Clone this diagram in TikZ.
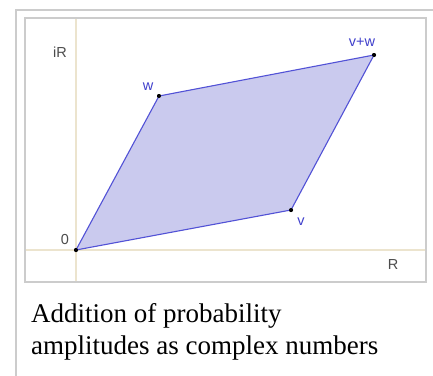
\documentclass[tikz,border=0pt]{standalone}
\usepackage{fontspec}
\setmainfont{Liberation Serif}
\setsansfont{Liberation Sans}
\usetikzlibrary{positioning}
\definecolor{areafill}{RGB}{202,202,238}
\definecolor{edgeblue}{RGB}{82,82,214}
\definecolor{lblblue}{RGB}{64,64,204}
\definecolor{axistan}{RGB}{236,228,206}
\definecolor{framegray}{RGB}{204,204,204}

\begin{document}
\begin{tikzpicture}[
  x=1pt, y=-1pt,
  corner/.style={circle, fill=black, inner sep=0pt, minimum size=4pt},
  vlabel/.style={font=\sffamily\fontsize{14.5}{14.5}\selectfont, text=lblblue, inner sep=1pt},
  alabel/.style={font=\sffamily\fontsize{14.5}{14.5}\selectfont, text=black!70, inner sep=1pt},
  axis/.style={draw=axistan, line width=1.6pt},
]
  \useasboundingbox (0,0) rectangle (433,375);
  % frames
  \draw[framegray, line width=1.2pt] (16,380) -- (16,10) -- (440,10);
  \draw[framegray, line width=1.2pt, fill=white] (25,18) rectangle (426,282);
  % axes
  \coordinate (xl) at (26,250);
  \coordinate (xr) at (425,250);
  \coordinate (yt) at (76,19);
  \coordinate (yb) at (76,281);
  \draw[axis] (xl) -- (xr);
  \draw[axis] (yt) -- (yb);
  % corners
  \node[corner] (o)  at (76,250)  {};
  \node[corner] (v)  at (291,210) {};
  \node[corner] (w)  at (159,96)  {};
  \node[corner] (vw) at (374,55)  {};
  \draw[edgeblue, line width=1.1pt, fill=areafill]
    (o.center) -- (v.center) -- (vw.center) -- (w.center) -- cycle;
  \foreach \p in {o,v,w,vw} \node[corner] at (\p) {};
  % labels
  \node[vlabel] at (148,87)  {w};
  \node[vlabel] at (301,222) {v};
  \node[vlabel] at (362,42)  {v+w};
  \node[alabel] at (65,240)  {0};
  \node[alabel] at (60,52)   {iR};
  \node[alabel] at (393,265) {R};
  % caption
  \node[anchor=base west, inner sep=0pt, font=\fontsize{27}{32}\selectfont]
    (cap1) at (31,322) {Addition of probability};
  \node[anchor=base west, inner sep=0pt, font=\fontsize{27}{32}\selectfont]
    (cap2) at (31,354) {amplitudes as complex numbers};
\end{tikzpicture}
\end{document}
